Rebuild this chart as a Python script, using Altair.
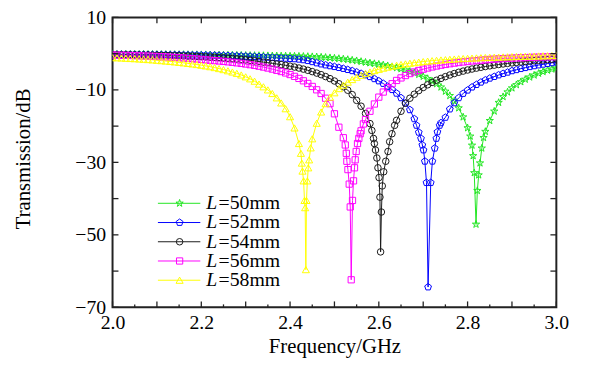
import altair as alt
import pandas as pd

# ---------------- data ----------------
freq = [2.00, 2.01, 2.02, 2.03, 2.04, 2.05, 2.06, 2.07, 2.08, 2.09,
        2.10, 2.11, 2.12, 2.13, 2.14, 2.15, 2.16, 2.17, 2.18, 2.19,
        2.20, 2.21, 2.22, 2.23, 2.24, 2.25, 2.26, 2.27, 2.28, 2.29,
        2.30, 2.31, 2.32, 2.33, 2.34, 2.35, 2.36, 2.37, 2.38, 2.39,
        2.40, 2.41, 2.42, 2.43, 2.44, 2.45, 2.46, 2.47, 2.48, 2.49,
        2.50, 2.51, 2.52, 2.53, 2.54, 2.55, 2.56, 2.57, 2.58, 2.59,
        2.60, 2.61, 2.62, 2.63, 2.64, 2.65, 2.66, 2.67, 2.68, 2.69,
        2.70, 2.71, 2.72, 2.73, 2.74, 2.75, 2.76, 2.77, 2.78, 2.79,
        2.80, 2.81, 2.82, 2.83, 2.84, 2.85, 2.86, 2.87, 2.88, 2.89,
        2.90, 2.91, 2.92, 2.93, 2.94, 2.95, 2.96, 2.97, 2.98, 2.99,
        3.00]

N = None
db_50 = [-0.15, -0.15, -0.16, -0.16, -0.17, -0.17, -0.18, -0.18, -0.19, -0.19,
         -0.2, -0.21, -0.22, -0.23, -0.24, -0.25, -0.26, -0.27, -0.28, -0.29,
         -0.3, -0.31, -0.33, -0.34, -0.36, -0.38, -0.4, -0.42, -0.44, -0.46,
         -0.48, -0.5, -0.52, -0.54, -0.56, -0.58, -0.6, -0.62, -0.64, -0.66,
         -0.68, -0.7, -0.73, -0.76, -0.8, -0.85, -0.9, -0.97, -1.05, -1.14,
         -1.25, -1.37, -1.5, -1.64, -1.8, -1.97, -2.18, -2.4, -2.58, -2.76,
         -2.94, -3.13, -3.35, -3.6, -3.9, -4.2, -4.52, -4.9, -5.3, -5.77,
         -6.3, -6.9, -7.6, -8.35, -9.25, -10.4, -11.6, -13.1, -15.0, -17.5,
         -20.5, -25.3, N, N, -21.5, -18.5, -15.9, -13.5, -11.9, -10.6,
         -9.5, -8.6, -7.8, -7.1, -6.5, -5.95, -5.45, -5.0, -4.6, -4.3,
         -4.0]
dip_f_50 = [2.806, 2.8125, 2.815, 2.819, 2.822, 2.825, 2.828, 2.832, 2.836]
dip_db_50 = [-22.8, -28.2, -32.9, -47.1, -37.8, -33.5, -30.2, -26.1, -23.2]

db_52 = [-0.22, -0.23, -0.24, -0.25, -0.26, -0.27, -0.28, -0.29, -0.3, -0.31,
         -0.32, -0.33, -0.34, -0.35, -0.36, -0.37, -0.39, -0.4, -0.41, -0.42,
         -0.43, -0.44, -0.45, -0.48, -0.51, -0.54, -0.57, -0.61, -0.65, -0.69,
         -0.74, -0.79, -0.85, -0.91, -0.97, -1.04, -1.11, -1.18, -1.25, -1.31,
         -1.37, -1.45, -1.56, -1.72, -1.95, -2.25, -2.58, -2.88, -3.15, -3.38,
         -3.6, -3.85, -4.12, -4.42, -4.73, -5.09, -5.48, -5.9, -6.37, -6.94,
         -7.55, -8.25, -9.05, -9.95, -10.95, -12.2, -13.65, -15.5, -18.0, -21.7,
         N, N, N, N, -19.1, -17.6, -15.3, -13.6, -12.2, -11.0,
         -10.1, -9.25, -8.55, -7.9, -7.3, -6.8, -6.34, -5.9, -5.5, -5.15,
         -4.75, -4.45, -4.15, -3.88, -3.62, -3.38, -3.15, -2.95, -2.75, -2.55,
         -2.35]
dip_f_52 = [2.685, 2.695, 2.698, 2.7007, 2.7037, 2.7074, 2.711, 2.717, 2.7207,
            2.726, 2.7296, 2.732, 2.737]
dip_db_52 = [-19.8, -23.4, -25.2, -26.6, -29.7, -35.6, -64.4, -35.6, -29.7,
             -26.1, -23.4, -21.6, -19.8]

db_54 = [-0.3, -0.31, -0.32, -0.33, -0.35, -0.36, -0.38, -0.39, -0.41, -0.43,
         -0.45, -0.47, -0.5, -0.53, -0.56, -0.6, -0.64, -0.68, -0.72, -0.77,
         -0.82, -0.87, -0.93, -1.0, -1.07, -1.15, -1.24, -1.34, -1.45, -1.57,
         -1.7, -1.84, -2.0, -2.18, -2.35, -2.5, -2.67, -2.85, -3.03, -3.23,
         -3.45, -3.7, -3.97, -4.27, -4.6, -4.96, -5.37, -5.8, -6.33, -6.9,
         -7.55, -8.3, -9.15, -10.1, -11.3, -12.9, -14.5, -16.5, -19.3, -24.8,
         N, N, N, N, -18.4, -15.9, -13.7, -12.3, -11.2, -10.2,
         -9.35, -8.6, -7.95, -7.35, -6.83, -6.35, -5.9, -5.5, -5.14, -4.82,
         -4.52, -4.25, -4.0, -3.77, -3.56, -3.37, -3.18, -3.0, -2.85, -2.7,
         -2.56, -2.43, -2.31, -2.19, -2.08, -1.97, -1.86, -1.76, -1.66, -1.56,
         -1.47]
dip_f_54 = [2.5844, 2.588, 2.5925, 2.5956, 2.598, 2.6005, 2.6025, 2.604, 2.6058,
            2.6078, 2.611, 2.6156, 2.6207, 2.6244, 2.6296, 2.6356]
dip_db_54 = [-21.2, -23.4, -26.6, -28.8, -31.5, -34.2, -39.6, -54.7, -43.7,
             -36.5, -32.6, -29.7, -27.0, -24.3, -22.1, -19.8]

db_56 = [-0.4, -0.43, -0.46, -0.49, -0.52, -0.56, -0.6, -0.64, -0.68, -0.73,
         -0.78, -0.84, -0.9, -0.97, -1.04, -1.12, -1.2, -1.3, -1.4, -1.5,
         -1.6, -1.72, -1.83, -1.93, -2.03, -2.15, -2.27, -2.4, -2.55, -2.7,
         -2.87, -3.05, -3.25, -3.47, -3.71, -3.98, -4.27, -4.6, -4.94, -5.33,
         -5.77, -6.27, -6.84, -7.5, -8.23, -9.05, -9.98, -11.0, -12.3, -13.8,
         -16.6, -20.3, -23.2, N, N, N, -21.3, -18.2, -15.9, -13.9,
         -12.0, -10.6, -9.4, -8.3, -7.4, -6.7, -6.05, -5.5, -5.05, -4.65,
         -4.3, -3.97, -3.68, -3.42, -3.19, -2.98, -2.79, -2.62, -2.46, -2.31,
         -2.17, -2.04, -1.92, -1.81, -1.71, -1.62, -1.53, -1.45, -1.38, -1.32,
         -1.26, -1.2, -1.15, -1.1, -1.05, -1.01, -0.97, -0.93, -0.89, -0.86,
         -0.82]
dip_f_56 = [2.5244, 2.5267, 2.528, 2.5304, 2.5333, 2.5356, 2.5378, 2.5407, 2.543,
            2.5452, 2.5467, 2.549, 2.552, 2.555, 2.558, 2.5652]
dip_db_56 = [-25.2, -27.5, -29.7, -32.0, -36.0, -42.3, -62.4, -40.5, -35.1,
             -31.5, -29.3, -27.0, -24.8, -23.4, -22.1, -19.4]

db_58 = [-1.1, -1.15, -1.2, -1.28, -1.34, -1.4, -1.48, -1.55, -1.64, -1.73,
         -1.83, -1.94, -2.05, -2.16, -2.28, -2.41, -2.55, -2.7, -2.85, -3.01,
         -3.2, -3.39, -3.61, -3.85, -4.12, -4.41, -4.73, -5.07, -5.44, -5.88,
         -6.4, -6.95, -7.6, -8.4, -9.15, -10.0, -11.0, -12.2, -13.6, -15.2,
         -17.4, -20.5, -24.8, N, N, -23.5, -19.2, -16.1, -13.8, -12.0,
         -10.8, -9.65, -8.7, -7.87, -7.15, -6.5, -5.98, -5.5, -5.06, -4.67,
         -4.32, -4.0, -3.72, -3.45, -3.22, -3.01, -2.83, -2.65, -2.49, -2.34,
         -2.2, -2.07, -1.95, -1.85, -1.75, -1.66, -1.57, -1.49, -1.42, -1.36,
         -1.3, -1.24, -1.18, -1.13, -1.08, -1.03, -0.99, -0.95, -0.91, -0.87,
         -0.83, -0.79, -0.76, -0.73, -0.7, -0.67, -0.64, -0.61, -0.58, -0.55,
         -0.52]
dip_f_58 = [2.4244, 2.4265, 2.428, 2.4305, 2.4325, 2.434, 2.4356, 2.437, 2.439,
            2.441, 2.443, 2.4465]
dip_db_58 = [-27.5, -30.2, -32.4, -35.1, -40.5, -42.5, -59.6, -40.5, -35.1,
             -31.5, -29.3, -26.0]

series_names = ["50mm", "52mm", "54mm", "56mm", "58mm"]
series_colors = ["#22e622", "#0000ff", "#1a1a1a", "#ff00ff", "#ffff00"]

x_major = [2.0, 2.1, 2.2, 2.3, 2.4, 2.5, 2.6, 2.7, 2.8, 2.9, 3.0]
x_minor = [2.05, 2.15, 2.25, 2.35, 2.45, 2.55, 2.65, 2.75, 2.85, 2.95]
x_labels = [2.0, 2.2, 2.4, 2.6, 2.8, 3.0]
y_ticks = [10, 0, -10, -20, -30, -40, -50, -60, -70]
y_labels = [10, -10, -30, -50, -70]

# ---------------- build tables ----------------
STAR = ("M0,-1L0.225,-0.309L0.951,-0.309L0.363,0.118L0.588,0.809L0,0.382"
        "L-0.588,0.809L-0.363,0.118L-0.951,-0.309L-0.225,-0.309Z")
PENTA = "M0,-1L0.951,-0.309L0.588,0.809L-0.588,0.809L-0.951,-0.309Z"
shapes = [STAR, PENTA, "circle", "square", "triangle-up"]
sizes = [60, 52, 44, 40, 52]

grids = [db_50, db_52, db_54, db_56, db_58]
dips = [(dip_f_50, dip_db_50), (dip_f_52, dip_db_52), (dip_f_54, dip_db_54),
        (dip_f_56, dip_db_56), (dip_f_58, dip_db_58)]

rows = []
for name, vals, (df_, ddb) in zip(series_names, grids, dips):
    pts = [(f, v) for f, v in zip(freq, vals) if v is not None] + list(zip(df_, ddb))
    pts.sort()
    for f, v in pts:
        rows.append({"f": f, "db": v, "series": name})
data = pd.DataFrame(rows)

FONT = "Liberation Serif"
FRAME = "#222222"
W, H = 450, 294

xscale = alt.Scale(domain=[2.0, 3.0], nice=False, zero=False)
yscale = alt.Scale(domain=[-70, 10], nice=False, zero=False)

xaxis = alt.Axis(values=x_labels, format=".1f", ticks=False, domain=False, grid=False,
                 labelFlush=False,
                 labelFont=FONT, labelFontSize=20, labelPadding=5, labelColor="black",
                 title="Frequency/GHz", titleFont=FONT, titleFontSize=21,
                 titleFontWeight="normal", titleColor="black",
                 titleY=40, titleBaseline="middle")
yaxis = alt.Axis(values=y_labels,
                 labelExpr="datum.value < 0 ? '\u2212' + abs(datum.value) : '' + datum.value",
                 ticks=False, domain=False, grid=False, labelFlush=False,
                 labelFont=FONT, labelFontSize=20, labelPadding=7, labelColor="black",
                 title="Transmission/dB", titleFont=FONT, titleFontSize=21,
                 titleFontWeight="normal", titleColor="black",
                 titleX=-90, titleY=143, titleAngle=270, titleBaseline="middle",
                 titleAlign="center")

layers = []
for name, col, shp, sz in zip(series_names, series_colors, shapes, sizes):
    sub = data[data["series"] == name]
    base = alt.Chart(sub)
    layers.append(base.mark_line(color=col, strokeWidth=1, clip=True).encode(
        x=alt.X("f:Q", scale=xscale, axis=xaxis),
        y=alt.Y("db:Q", scale=yscale, axis=yaxis)))
for name, col, shp, sz in zip(series_names, series_colors, shapes, sizes):
    sub = data[data["series"] == name]
    base = alt.Chart(sub)
    layers.append(base.mark_point(shape=shp, size=sz, filled=False, color=col,
                                  strokeWidth=1, opacity=1, clip=True).encode(
        x=alt.X("f:Q"), y=alt.Y("db:Q")))

# inward ticks on all four sides
xt = pd.DataFrame({"f": x_major})
xm = pd.DataFrame({"f": x_minor})
yt = pd.DataFrame({"db": y_ticks})
layers.append(alt.Chart(xt).mark_rule(color=FRAME, strokeWidth=1.3).encode(
    x="f:Q", y=alt.value(H), y2=alt.value(H - 6)))
layers.append(alt.Chart(xm).mark_rule(color=FRAME, strokeWidth=1.3).encode(
    x="f:Q", y=alt.value(H), y2=alt.value(H - 3)))
layers.append(alt.Chart(xt).mark_rule(color=FRAME, strokeWidth=1.3).encode(
    x="f:Q", y=alt.value(0), y2=alt.value(6)))
layers.append(alt.Chart(yt).mark_rule(color=FRAME, strokeWidth=1.3).encode(
    y="db:Q", x=alt.value(0), x2=alt.value(6)))
layers.append(alt.Chart(yt).mark_rule(color=FRAME, strokeWidth=1.3).encode(
    y="db:Q", x=alt.value(W), x2=alt.value(W - 6)))

# legend drawn inside the plot
for i, (name, col, shp, sz) in enumerate(zip(series_names, series_colors, shapes, sizes)):
    yy = 188.5 + 19.5 * i
    one = pd.DataFrame({"series": [name]})
    c = alt.Chart(one)
    layers.append(c.mark_rule(color=col, strokeWidth=1).encode(
        x=alt.value(46), x2=alt.value(89), y=alt.value(yy)))
    layers.append(c.mark_point(shape=shp, size=sz, filled=False, color=col,
                               strokeWidth=1, opacity=1).encode(
        x=alt.value(68), y=alt.value(yy)))
    layers.append(c.mark_text(text="L", font=FONT, fontStyle="italic", fontSize=20,
                              align="left", baseline="middle", color="black").encode(
        x=alt.value(95), y=alt.value(yy)))
    layers.append(c.mark_text(text="=" + name, font=FONT, fontSize=20,
                              align="left", baseline="middle", color="black").encode(
        x=alt.value(107.5), y=alt.value(yy)))

chart = alt.layer(*layers).properties(
    width=W, height=H,
    padding={"left": 106, "top": 7, "right": 25, "bottom": 60},
    autosize=alt.AutoSizeParams(type="none"),
    background="white",
).configure_view(stroke=FRAME, strokeWidth=2)

chart.save("out.html", embed_options={"renderer": "svg", "actions": False})
